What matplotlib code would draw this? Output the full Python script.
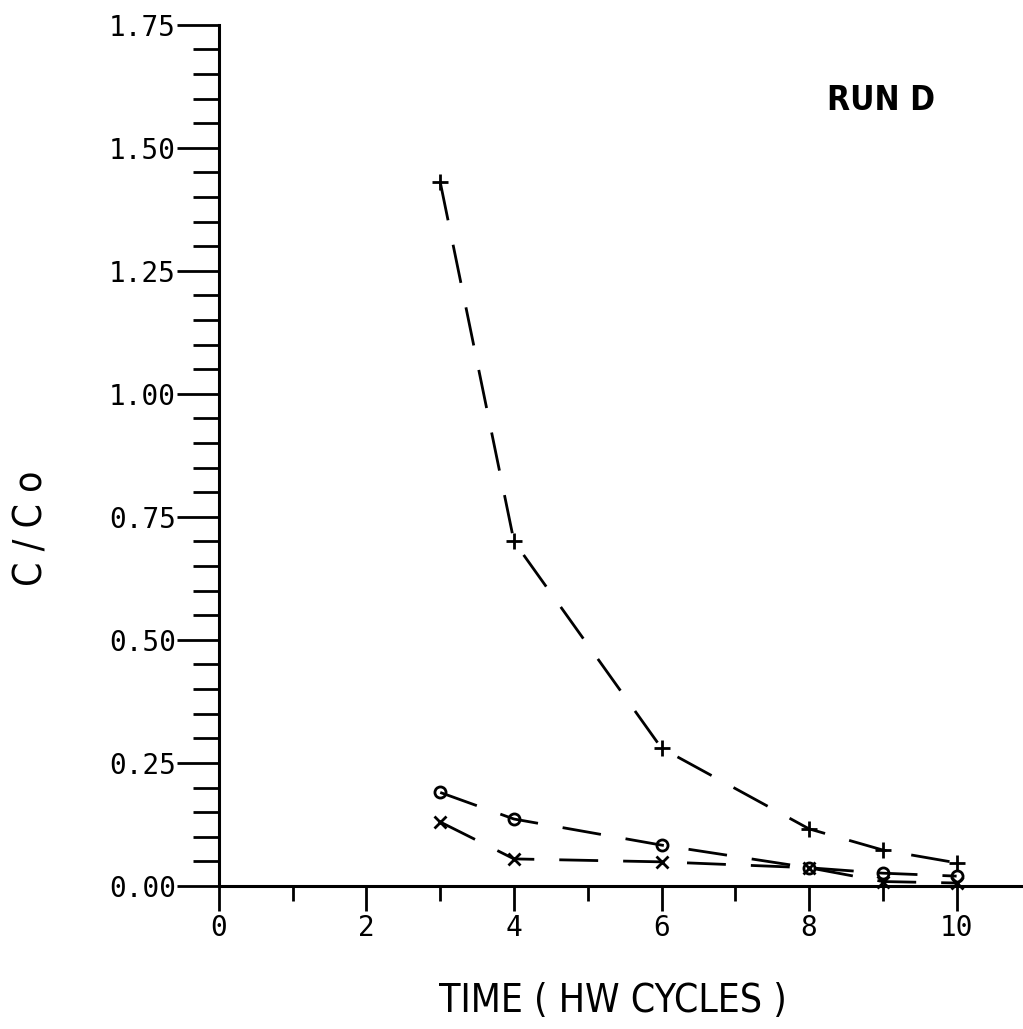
import matplotlib.pyplot as plt
import numpy as np

# Concentration ratio C/Co over time, run D
t_plus = [3, 4, 6, 8, 9, 10]
c_plus = [1.43, 0.70, 0.28, 0.116, 0.073, 0.047]

t_circ = [3, 4, 6, 8, 9, 10]
c_circ = [0.19, 0.136, 0.083, 0.037, 0.026, 0.020]

t_cross = [3, 4, 6, 8, 9, 10]
c_cross = [0.13, 0.055, 0.049, 0.037, 0.009, 0.006]

yticks = [0.0, 0.25, 0.50, 0.75, 1.00, 1.25, 1.50, 1.75]
ytick_labels = ['0.00', '0.25', '0.50', '0.75', '1.00', '1.25', '1.50', '1.75']
xticks = [0, 2, 4, 6, 8, 10]
xtick_labels = ['0', '2', '4', '6', '8', '10']

fig = plt.figure(figsize=(10.23, 10.29), dpi=100)
ax = fig.add_axes([0.214, 0.139, 0.786, 0.837])

dash = (14, 9)
ax.plot(t_plus, c_plus, color='black', lw=2, dashes=dash,
        marker='+', ms=11, mew=2, clip_on=False)
ax.plot(t_circ, c_circ, color='black', lw=2, dashes=dash,
        marker='o', ms=8, mfc='none', mew=2, clip_on=False)
ax.plot(t_cross, c_cross, color='black', lw=2, dashes=dash,
        marker='x', ms=8, mew=2, clip_on=False)

ax.set_xlim(0, 10.9)
ax.set_ylim(0, 1.75)

for s in ['top', 'right']:
    ax.spines[s].set_visible(False)
ax.spines['left'].set_linewidth(2.2)
ax.spines['bottom'].set_linewidth(2.2)

tick_font = {'family': 'DejaVu Sans Mono', 'size': 20}
ax.set_yticks(yticks)
ax.set_yticklabels(ytick_labels, fontdict=tick_font)
ax.set_yticks(np.arange(0, 1.751, 0.05), minor=True)
ax.set_xticks(xticks)
ax.set_xticklabels(xtick_labels, fontdict=tick_font)
ax.set_xticks([1, 3, 5, 7, 9], minor=True)

ax.tick_params(axis='y', which='major', direction='out', length=30, width=2, pad=1)
ax.tick_params(axis='y', which='minor', direction='out', length=19, width=2)
ax.tick_params(axis='x', which='major', direction='out', length=18, width=2, pad=2)
ax.tick_params(axis='x', which='minor', direction='out', length=11, width=2)

label_font = ['DejaVu Sans Condensed', 'Liberation Sans Narrow', 'DejaVu Sans']
ax.set_xlabel('TIME ( HW CYCLES )', fontsize=28, family=label_font,
              fontstretch='condensed')
ax.xaxis.set_label_coords(0.49, -0.112)
ax.set_ylabel('C / C o', fontsize=28, family=label_font, fontstretch='condensed')
ax.yaxis.set_label_coords(-0.21, 0.415)
ax.text(0.756, 0.901, 'RUN D', transform=ax.transAxes, fontsize=24,
        family=label_font, fontstretch='condensed', fontweight='bold',
        va='baseline')

fig.savefig('out.png', dpi=100)
